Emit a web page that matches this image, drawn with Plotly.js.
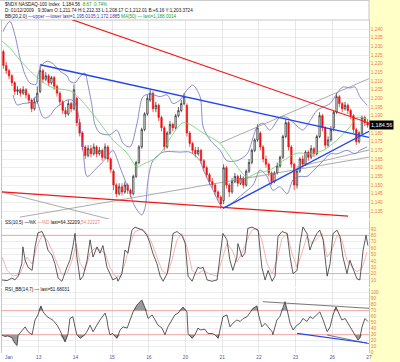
<!DOCTYPE html>
<html><head><meta charset="utf-8">
<script src="https://cdn.plot.ly/plotly-3.0.1.min.js"></script>
<style>html,body{margin:0;padding:0;background:#fff}#c{width:400px;height:362px}</style>
</head><body><div id="c"></div>
<script>
// ---- categories ----
const dayLabels = ['Jan','13','14','15','16','20','21','22','23','26','27'];
const barsPerDay = 13;

// ---- 30-min candles (Jan 12 .. Jan 26) ----
const O = [1227,1219,1216,1213,1209,1204,1205,1203,1205,1202,1199,1194,1198,
1204,1216,1211,1213,1209,1212,1207,1203,1198,1193,1191,1197,1194,
1200,1186,1180,1172,1167,1171,1168,1172,1168,1170,1166,1172,1165,
1158,1150,1145,1149,1146,1150,1147,1145,1155,1163,1172,1182,1191,
1199,1203,1194,1196,1189,1183,1172,1180,1185,1183,1190,1193,1197,
1196,1180,1174,1170,1168,1170,1164,1160,1156,1152,1150,1146,1143,
1141,1160,1150,1146,1152,1155,1151,1154,1150,1158,1163,1170,1176,
1180,1172,1165,1162,1157,1152,1157,1161,1166,1178,1186,1172,1162,
1150,1158,1165,1162,1169,1166,1171,1168,1178,1190,1183,1173,1176,
1183,1192,1201,1197,1194,1196,1193,1190,1182,1175,1180,1189,1186];
const H = [1228,1221,1217,1214,1210,1207,1206,1207,1206,1203,1200,1200,1207,
1219,1217,1215,1214,1213,1213,1208,1204,1199,1195,1199,1198,1208,
1201,1188,1181,1173,1173,1173,1174,1173,1172,1171,1174,1173,1166,
1159,1151,1151,1151,1152,1151,1148,1156,1164,1173,1183,1192,1202,
1205,1204,1198,1197,1190,1184,1181,1187,1186,1191,1195,1199,1203,
1197,1181,1175,1172,1172,1171,1165,1161,1157,1154,1151,1147,1144,
1162,1161,1151,1154,1157,1156,1156,1155,1159,1165,1171,1177,1185,
1181,1173,1167,1163,1158,1158,1163,1167,1179,1188,1187,1173,1163,
1160,1166,1167,1170,1170,1173,1172,1179,1192,1191,1184,1178,1184,
1193,1203,1202,1198,1198,1197,1194,1191,1183,1181,1190,1190,1188];
const L = [1217,1214,1211,1207,1202,1202,1201,1202,1200,1197,1192,1193,1197,
1203,1209,1210,1207,1208,1205,1201,1196,1191,1189,1190,1192,1193,
1184,1178,1170,1165,1166,1166,1167,1166,1167,1164,1165,1163,1157,
1147,1143,1144,1144,1145,1145,1143,1144,1154,1162,1171,1181,1190,
1198,1192,1192,1187,1181,1170,1171,1179,1181,1182,1189,1192,1196,
1178,1172,1168,1166,1167,1162,1158,1154,1150,1148,1144,1141,1136,
1139,1148,1143,1145,1151,1149,1150,1148,1149,1157,1162,1169,1175,
1170,1163,1160,1155,1150,1151,1156,1160,1165,1177,1170,1160,1147,
1148,1157,1160,1161,1164,1165,1166,1167,1177,1181,1171,1172,1175,
1181,1191,1195,1192,1193,1191,1188,1180,1173,1174,1179,1184,1183];
const C = [1219,1216,1213,1209,1204,1205,1203,1205,1202,1199,1194,1198,1203,
1216,1211,1213,1209,1212,1207,1203,1198,1193,1191,1197,1194,1205,
1186,1180,1172,1167,1171,1168,1172,1168,1170,1166,1172,1165,1159,
1150,1145,1149,1146,1150,1147,1145,1155,1163,1172,1182,1191,1200,
1203,1194,1196,1189,1183,1172,1180,1185,1183,1190,1193,1197,1201,
1180,1174,1170,1168,1170,1164,1160,1156,1152,1150,1146,1143,1139,
1160,1150,1146,1152,1155,1151,1154,1150,1158,1163,1170,1176,1183,
1172,1165,1162,1157,1152,1157,1161,1166,1178,1186,1172,1162,1150,
1158,1165,1162,1169,1166,1171,1168,1178,1190,1183,1173,1176,1182,
1192,1201,1197,1194,1196,1193,1190,1182,1175,1180,1189,1186,1184.56];
const lastPrice = 1184.56;

// ---- overlays (time in trading days from Jan 12 open) ----
const bbUpX = [0.03,0.11,0.22,0.35,0.49,0.63,0.76,0.93,0.98,1.09,1.23,1.39,1.58,1.77,1.85,1.99,2.13,2.26,2.34,2.45,2.53,2.67,2.94,3.13,3.30,3.49,3.68,3.84,4.03,4.31,4.50,4.66,4.85,5.04,5.20,5.40,5.48,5.67,5.94,6.13,6.40,6.68,6.95,7.11,7.30,7.57,7.77,8.04,8.20,8.39,8.58,8.75,8.94,9.13,9.29,9.48,9.62,9.75,9.95];
const bbUp = [1238.5,1242,1244.4,1236.7,1223.3,1213.6,1208.8,1208,1213.6,1219.4,1221.4,1220,1215.6,1213,1209.8,1209,1212.7,1214.6,1208,1196,1185,1180,1179,1181.7,1174,1172,1185.7,1201,1202.5,1201,1202,1197,1199,1204.8,1207.7,1200.8,1183.5,1176,1170,1164,1164,1168,1183.5,1185.7,1181.7,1189,1189,1184,1181.7,1187,1193,1195,1197,1203,1206.6,1206,1206.6,1201,1196];
const bbLoX = [0.30,0.41,0.57,0.82,0.90,0.98,1.09,1.17,1.31,1.44,1.63,1.77,1.91,2.02,2.13,2.21,2.32,2.59,2.86,3.02,3.22,3.49,3.57,3.68,3.81,3.90,3.98,4.11,4.39,4.85,5.12,5.40,5.48,5.75,6.02,6.29,6.57,6.84,7.03,7.22,7.38,7.57,7.77,7.93,8.12,8.31,8.58,8.75,8.94,9.13,9.40,9.62,9.75,9.95];
const bbLo = [1202,1196.3,1197,1198,1201,1197,1190,1188.6,1190,1194,1197,1199,1199,1196,1184,1170,1155,1160,1166,1170,1160,1145,1140,1135.6,1132.7,1137,1153,1164,1169,1169,1169,1164,1159,1147,1137,1140,1145,1150,1158.6,1155,1147,1149,1145,1153,1155,1155,1160.4,1164,1168,1168,1170,1168,1170,1172];
const maX = [0,0.22,0.49,0.76,1.04,1.39,1.72,1.93,2.32,2.67,3.02,3.41,3.68,3.84,4.22,4.50,4.58,4.93,5.12,5.48,5.94,6.29,6.68,6.95,7.30,7.66,8.04,8.39,8.75,9.13,9.48,9.67,9.95];
const ma50 = [1233,1229,1222,1216,1210.6,1206,1205,1203.6,1195,1185.7,1176,1168.4,1160.4,1162,1166,1174,1177,1186,1185,1180,1174,1164,1154.6,1157,1158.6,1164,1168.4,1168,1170,1176,1183.5,1189,1188];

// ---- trendlines: [t0, t1], [v0, v1] ----
const redTopT = [1.91, 10], redTopV = [1245.4, 1185.8];
const redBotT = [0, 9.43], redBotV = [1146, 1132];
const blueUpT = [1.04, 10], blueUpV = [1219.4, 1177.5];
const blueLoT = [6.02, 10], blueLoV = [1136.5, 1181];
const grayAT = [0, 3.02], grayAV = [1146, 1129.8];
const grayBT = [0.49, 10], grayBV = [1131.5, 1166.1];
const grayCT = [5.94, 10], grayCV = [1174.2, 1211.4];
const grayDT = [8.04, 10], grayDV = [1160.4, 1170.2];

// ---- Slow stochastic ----
const kX = [0,0.14,0.27,0.35,0.44,0.54,0.57,0.63,0.71,0.82,0.90,0.98,1.09,1.17,1.25,1.36,1.44,1.53,1.63,1.66,1.77,1.85,1.93,1.99,2.04,2.13,2.21,2.32,2.40,2.48,2.59,2.67,2.75,2.86,2.94,3.02,3.13,3.16,3.27,3.35,3.43,3.54,3.62,3.76,3.84,3.95,4.03,4.11,4.22,4.31,4.39,4.50,4.58,4.66,4.77,4.90,4.99,5.07,5.18,5.26,5.34,5.40,5.48,5.59,5.72,5.86,5.94,6.02,6.13,6.21,6.29,6.40,6.43,6.54,6.62,6.70,6.81,6.89,6.98,7.08,7.17,7.25,7.36,7.44,7.52,7.63,7.77,7.85,7.93,8.04,8.12,8.20,8.31,8.39,8.47,8.58,8.66,8.75,8.86,8.94,9.02,9.13,9.21,9.29,9.40,9.48,9.56,9.67,9.75,9.84,9.92,9.97];
const kY = [10,9,13,10,16,36,62,41,30,25,62,84,86,76,57,49,36,13,8,12,30,41,62,83,46,10,16,41,73,46,62,52,64,30,20,10,14,8,20,57,52,88,93,90,88,80,68,52,36,16,8,20,46,83,86,80,68,16,8,20,30,28,30,10,8,10,46,83,73,41,25,46,67,46,52,91,93,90,88,30,10,25,8,16,78,86,83,46,20,25,67,93,83,57,70,83,88,73,16,36,83,88,78,46,20,41,30,12,10,57,80,64];
const dX = [0,0.14,0.30,0.49,0.68,0.82,0.95,1.09,1.23,1.36,1.50,1.63,1.77,1.91,2.02,2.13,2.26,2.40,2.53,2.67,2.81,2.94,3.08,3.22,3.35,3.49,3.62,3.81,3.95,4.09,4.22,4.36,4.50,4.63,4.77,4.90,5.04,5.18,5.31,5.48,5.67,5.86,5.99,6.13,6.27,6.40,6.54,6.68,6.81,6.95,7.08,7.22,7.36,7.49,7.63,7.77,7.90,8.04,8.17,8.31,8.45,8.58,8.72,8.86,8.99,9.13,9.26,9.40,9.54,9.67,9.81,9.95];
const dY = [46,25,16,19,46,35,62,80,73,57,36,19,20,41,67,36,25,52,60,57,52,30,16,16,36,67,86,90,83,67,46,25,19,41,73,83,62,25,19,25,19,16,41,67,57,38,52,73,88,91,73,36,20,41,75,83,52,30,52,78,67,75,83,46,57,80,73,41,30,23,28,54];

// ---- RSI ----
const rX = [0,0.08,0.16,0.27,0.35,0.41,0.44,0.54,0.63,0.71,0.82,0.90,0.98,1.06,1.12,1.23,1.31,1.39,1.50,1.58,1.72,1.80,1.85,1.93,1.99,2.04,2.13,2.26,2.34,2.40,2.48,2.59,2.67,2.81,2.86,2.89,2.94,3.02,3.13,3.22,3.30,3.41,3.49,3.57,3.68,3.81,3.90,3.98,4.09,4.17,4.25,4.36,4.44,4.52,4.63,4.71,4.80,4.90,4.93,5.04,5.07,5.18,5.26,5.34,5.40,5.53,5.61,5.72,5.80,5.89,5.94,6.02,6.13,6.21,6.29,6.40,6.49,6.57,6.68,6.76,6.84,6.95,6.98,7.08,7.17,7.25,7.36,7.38,7.49,7.57,7.66,7.71,7.77,7.85,7.93,8.04,8.12,8.20,8.31,8.39,8.47,8.58,8.66,8.75,8.86,8.94,9.02,9.10,9.16,9.26,9.35,9.43,9.54,9.62,9.70,9.75,9.81,9.89,9.97];
const rY = [29.5,27,28,25,15.6,12,29,37,43,35,30,54.5,63,78,68,60,57,54,46,37,18,32,57,60,43,30,24,30,38,46,35,46,54.5,66,55,43,30,32,24,38,43,41,54.5,68,79.5,88,74,57,63,54.5,46,41,30,43,54.5,63,66,74,76,68,32,24,30,41,38,39,32,32,30,24,38,60,63,43,49,54.5,52,57,60,66,74,78,66,43,49,43,35,30,54.5,60,74,85,71,49,38,46,49,57,52,60,57,63,68,54.5,35,43,63,76,68,54.5,57,49,38,30,21,24,43,57,52];
const rsiGrayUpT = [7.11, 10], rsiGrayUpV = [85, 74];
const rsiBlueT = [8.04, 9.95], rsiBlueV = [32.3, 16.2];
const rsiGrayLoT = [8.86, 10], rsiGrayLoV = [29.5, 15];

// ---------------- build ----------------
const candleX = C.map((_, i) => Math.floor(i / barsPerDay) + ((i % barsPerDay) + 0.5) / barsPerDay);
const ln = (x, y, color, w, ax, extra) => Object.assign({type:'scatter', mode:'lines', x:x, y:y, yaxis:ax||'y', hoverinfo:'skip', line:{color:color, width:w}}, extra||{});

const traces = [
  ln(bbUpX, bbUp, '#6E6EC4', 0.8, 'y', {line:{color:'#6E6EC4', width:0.8, shape:'spline', smoothing:0.8}}),
  ln(bbLoX, bbLo, '#6E6EC4', 0.8, 'y', {line:{color:'#6E6EC4', width:0.8, shape:'spline', smoothing:0.8}}),
  ln(maX, ma50, '#6CD06C', 0.8, 'y', {line:{color:'#6CD06C', width:0.8, shape:'spline', smoothing:0.8}}),
  ln(grayAT, grayAV, '#888', 0.7), ln(grayBT, grayBV, '#888', 0.7),
  ln(grayCT, grayCV, '#888', 0.7), ln(grayDT, grayDV, '#888', 0.7),
  ln(redTopT, redTopV, '#F01818', 1.1), ln(redBotT, redBotV, '#F01818', 1.3),
  ln(blueUpT, blueUpV, '#2244EE', 1.4), ln(blueLoT, blueLoV, '#2244EE', 1.4),
  {type:'candlestick', x:candleX, open:O, high:H, low:L, close:C, yaxis:'y', hoverinfo:'skip',
   whiskerwidth:0,
   increasing:{line:{color:'#222', width:0.7}, fillcolor:'#ffffff'},
   decreasing:{line:{color:'#EE1111', width:0.7}, fillcolor:'#EE1111'}},
  // stochastic
  ln(dX, dY, '#F4A0A0', 0.8, 'y2'),
  ln(kX, kY, '#333', 0.8, 'y2'),
  // RSI shading
  ln(rX, rX.map(() => 70), 'rgba(0,0,0,0)', 0, 'y3'),
  ln(rX, rY.map(v => Math.max(v, 70)), 'rgba(0,0,0,0)', 0, 'y3', {fill:'tonexty', fillcolor:'#9a9a9a'}),
  ln(rX, rX.map(() => 30), 'rgba(0,0,0,0)', 0, 'y3'),
  ln(rX, rY.map(v => Math.min(v, 30)), 'rgba(0,0,0,0)', 0, 'y3', {fill:'tonexty', fillcolor:'#9a9a9a'}),
  ln(rX, rY, '#333', 0.8, 'y3'),
  ln(rsiGrayUpT, rsiGrayUpV, '#555', 0.8, 'y3'),
  ln(rsiGrayLoT, rsiGrayLoV, '#555', 0.8, 'y3'),
  ln(rsiBlueT, rsiBlueV, '#2244EE', 1.2, 'y3')
];

// price tick labels (the one hidden behind the last-price box is left out)
const priceTicks = [], stochTicks = [], rsiTicks = [];
for (let v = 1135; v <= 1240; v += 5) if (Math.abs(v - lastPrice) > 2.5) priceTicks.push(v);
for (let v = 10; v <= 90; v += 10) stochTicks.push(v);
for (let v = 0; v <= 100; v += 10) rsiTicks.push(v);
const priceGrid = [];
for (let v = 1135; v <= 1240; v += 5) priceGrid.push(v);

const tickFont = {family:'Liberation Sans, Arial, sans-serif', size:4.8, color:'#EE7755'};
const yBase = {side:'right', showgrid:true, gridcolor:'#e2e2e2', gridwidth:0.6, zeroline:false,
  ticks:'', tickfont:tickFont, showline:true, linecolor:'#b8b8b8', linewidth:0.8, mirror:true, fixedrange:true};

const hdrFont = {family:'Liberation Sans, Arial, sans-serif', size:4.6, color:'#111'};
const hdr = (py, text) => ({xref:'paper', yref:'paper', x:0.003, y:(353 - py) / 353, xanchor:'left', yanchor:'middle',
  text:text, showarrow:false, font:hdrFont});

const refLine = (ax, v, color) => ({type:'line', xref:'x', yref:ax, x0:0, x1:10, y0:v, y1:v, layer:'between',
  line:{color:color || '#F09090', width:0.8}});

const layout = {
  width:400, height:362,
  margin:{l:2, r:31, t:0, b:9},
  paper_bgcolor:'#ffffff', plot_bgcolor:'#ffffff',
  showlegend:false,
  xaxis:{range:[0,10], anchor:'y3', tickvals:[1,2,3,4,5,6,7,8,9,10], ticktext:dayLabels.slice(1),
    showgrid:true, gridcolor:'#d6d6d6', gridwidth:0.6, zeroline:false, ticks:'',
    tickfont:{family:'Liberation Sans, Arial, sans-serif', size:4.8, color:'#5050B0'},
    rangeslider:{visible:false}, showline:false, fixedrange:true},
  yaxis:Object.assign({}, yBase, {domain:[0.3796, 0.9433], range:[1130.4, 1245.2], tickvals:priceTicks, tickformat:',d'}),
  yaxis2:Object.assign({}, yBase, {domain:[0.187, 0.3768], range:[-1, 104.1], tickvals:stochTicks}),
  yaxis3:Object.assign({}, yBase, {domain:[0, 0.1841], range:[-0.5, 107.8], tickvals:rsiTicks}),
  shapes:[
    {type:'rect', xref:'paper', yref:'paper', x0:1, x1:1.09, y0:-0.03, y1:1.0, layer:'below',
      fillcolor:'#FFFFC8', line:{width:0}},
    {type:'rect', xref:'paper', yref:'paper', x0:-0.01, x1:1, y0:0.9433, y1:0.999, layer:'below',
      fillcolor:'rgba(0,0,0,0)', line:{color:'#b8b8b8', width:0.8}},
    refLine('y', 1185, '#e2e2e2'),
    refLine('y2', 80), refLine('y2', 20), refLine('y3', 70), refLine('y3', 30)
  ],
  annotations:[
    hdr(4.5, '$NDX NASDAQ-100 Index  1,184.56  <span style="color:#22A022">8.67  0.74%</span>'),
    hdr(10.5, 'D: 01/12/2009   9:30am O:1,211.74 H:1,212.33 L:1,208.17 C:1,212.01 B:+6.16 Y:1,203.3724'),
    hdr(16.5, 'BB(20,2.0) <span style="color:#3333BB">\u2014upper \u2014lower last=1,195.0105;1,172.1885</span> <span style="color:#22A022">MA(50) \u2014 last=1,188.0014</span>'),
    hdr(222, 'SS(10,5) \u2014%K <span style="color:#F08080">\u2014%D</span> last=64.32209,<span style="color:#F08080">54.32227</span>'),
    hdr(289.5, 'RSI_BB(14,7) \u2014 last=51.68031'),
    {xref:'paper', yref:'paper', x:0.003, y:(353 - 357) / 353, xanchor:'left', yanchor:'middle', text:'Jan',
      showarrow:false, font:{family:'Liberation Sans, Arial, sans-serif', size:4.8, color:'#5050B0'}},
    {xref:'paper', yref:'y', x:1.0, y:lastPrice, xanchor:'left', yanchor:'middle', text:'1,184.56',
      showarrow:false, bgcolor:'#000', borderpad:1,
      font:{family:'Liberation Sans, Arial, sans-serif', size:5.5, color:'#fff'}}
  ]
};

Plotly.newPlot('c', traces, layout, {staticPlot:true, displayModeBar:false});
</script>
</body></html>
